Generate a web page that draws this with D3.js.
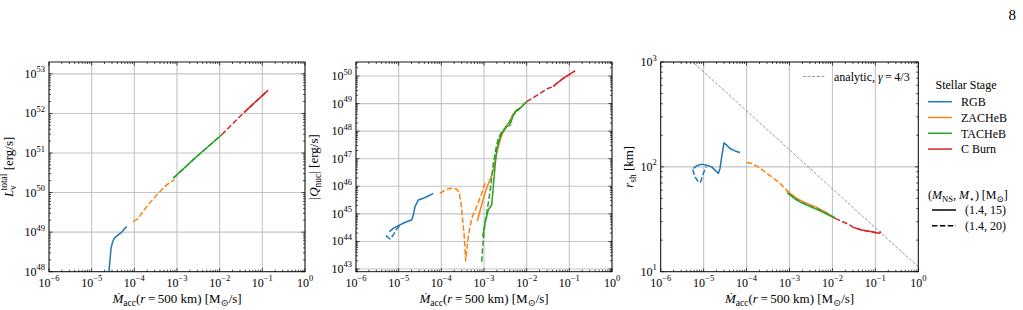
<!DOCTYPE html>
<html><head><meta charset="utf-8">
<script src="https://cdn.jsdelivr.net/npm/d3@7"></script>
<style>
body{margin:0;background:#fff}
svg{display:block}
text{font-family:"Liberation Serif","DejaVu Serif",serif;fill:#000}
</style>
</head><body>
<svg id="c" width="1023" height="310"></svg>
<script>
// ---- DATA: pairs of [log10 Mdot (Msun/s), log10 value] ----
// Panel 1: total neutrino luminosity [erg/s]
const lumRGB15 = [[-4.594,47.95],[-4.594,48.02],[-4.570,48.30],[-4.547,48.59],[-4.517,48.72],[-4.470,48.85],[-4.376,48.93],[-4.296,49.00],[-4.235,49.08],[-4.179,49.14]];
const lumZAC20 = [[-4.024,49.266],[-3.931,49.327],[-3.710,49.646],[-3.476,49.942],[-3.242,50.195],[-3.087,50.304],[-3.06,50.33]];
const lumTAC15 = [[-3.087,50.365],[-2.539,50.911],[-1.953,51.461]];
const lumTAC20 = [[-3.08,50.37],[-2.54,50.905],[-1.96,51.455]];
const lumCB20  = [[-1.953,51.461],[-1.524,51.924],[-1.172,52.281],[-0.868,52.582]];
const lumCB15  = [[-1.43,52.02],[-1.172,52.281],[-0.868,52.582]];

// Panel 2: |Q_nuc| [erg/s]
const qRGB15 = [[-5.220,44.353],[-5.126,44.476],[-5.009,44.571],[-4.891,44.658],[-4.774,44.741],[-4.695,44.777],[-4.657,44.959],[-4.617,45.260],[-4.540,45.503],[-4.423,45.564],[-4.306,45.648],[-4.188,45.746]];
const qRGB20 = [[-5.297,44.208],[-5.203,44.088],[-5.126,44.233],[-5.063,44.415],[-4.969,44.59]];
const qZAC20 = [[-4.031,45.746],[-3.914,45.865],[-3.797,45.927],[-3.640,45.902],[-3.579,45.746],[-3.539,45.383],[-3.500,44.777],[-3.462,44.172],[-3.430,43.30],[-3.368,44.172],[-3.328,44.534],[-3.274,44.897],[-3.171,45.260],[-3.054,45.746],[-2.977,46.108]];
const qZAC15 = [[-3.157,44.741],[-3.094,45.104],[-2.977,45.757],[-2.900,46.083],[-2.843,46.301],[-2.782,46.591],[-2.719,47.073],[-2.665,47.436],[-2.609,47.741],[-2.548,47.980],[-2.468,48.223],[-2.391,48.343],[-2.351,48.524],[-2.274,48.705],[-2.157,48.829],[-2.000,49.068]];
const qTAC20 = [[-3.054,43.265],[-3.031,43.809],[-2.977,44.658],[-2.900,45.383],[-2.843,45.985],[-2.782,46.834],[-2.719,47.378],[-2.665,47.741],[-2.585,47.980],[-2.468,48.170],[-2.313,48.586],[-2.157,48.829],[-2.000,49.068]];
const qTAC15 = [[-3.031,44.172],[-2.977,44.658],[-2.900,45.140],[-2.820,45.321],[-2.782,45.985],[-2.742,46.711],[-2.703,47.316],[-2.642,47.679],[-2.585,47.922],[-2.468,48.161],[-2.391,48.223],[-2.313,48.586],[-2.234,48.766],[-2.157,48.829],[-2.000,49.068]];
const qCB20 = [[-2.000,49.068],[-1.493,49.554],[-1.376,49.612],[-1.313,49.710],[-1.142,49.917],[-0.868,50.182]];
const qCB15 = [[-1.376,49.612],[-1.313,49.710],[-1.142,49.917],[-0.868,50.182]];

// Panel 3: shock radius [km]
const rRGB15 = [[-5.241,1.985],[-5.154,2.011],[-5.045,2.026],[-4.929,2.016],[-4.812,2.000],[-4.735,1.969],[-4.658,1.937],[-4.619,1.985],[-4.579,2.095],[-4.526,2.229],[-4.463,2.207],[-4.386,2.175],[-4.269,2.152],[-4.153,2.137]];
const rRGB20 = [[-5.255,1.975],[-5.201,1.905],[-5.124,1.857],[-5.073,1.852],[-5.008,1.937],[-4.945,2.000]];
const rZAC20 = [[-3.997,2.042],[-3.880,2.032],[-3.727,2.000],[-3.570,1.952],[-3.414,1.905],[-3.261,1.857],[-3.105,1.794],[-2.988,1.747]];
const rZAC15 = [[-3.065,1.771],[-2.832,1.699],[-2.599,1.651],[-2.366,1.613],[-2.133,1.562],[-1.940,1.514]];
const rTAC15 = [[-3.051,1.752],[-2.832,1.683],[-2.599,1.635],[-2.366,1.594],[-2.133,1.550],[-1.940,1.509]];
const rTAC20 = [[-3.02,1.745],[-2.80,1.678],[-2.55,1.630],[-2.30,1.588],[-2.08,1.545],[-1.94,1.512]];
const rCB20 = [[-1.940,1.509],[-1.590,1.445],[-1.514,1.423],[-1.318,1.397],[-1.085,1.381],[-0.915,1.366],[-0.869,1.381]];
const rCB15 = [[-1.514,1.423],[-1.318,1.397],[-1.085,1.381],[-0.915,1.366],[-0.869,1.381]];
const analytic = [[-6,3.278],[0,1.046]];

// Ticks / labels
const xTickExps = [-6,-5,-4,-3,-2,-1,0];
const yTickExps1 = [48,49,50,51,52,53];
const yTickExps2 = [43,44,45,46,47,48,49,50];
const yTickExps3 = [1,2,3];
const stages = ["RGB","ZACHeB","TACHeB","C Burn"];
const models = ["(1.4, 15)","(1.4, 20)"];

// ---- DRAWING ----
const colors = ["#1f77b4","#ff7f0e","#2ca02c","#d62728"];
const DASH = "5.5,2.4";
const svg = d3.select("#c");
const TOP = 62, BOT = 271.7;
const FS = 12, FSS = 8.5, FL = 13, FLS = 9.5;

const panels = [
  {x0:49, x1:305, yDom:[48,53.3], yTicks:yTickExps1, labX:13,
   series:[[lumRGB15,0,false],[lumZAC20,1,true],[lumTAC15,2,false],[lumTAC20,2,true],[lumCB20,3,true],[lumCB15,3,false]], ylab:"L"},
  {x0:356, x1:612, yDom:[42.902,50.508], yTicks:yTickExps2, labX:318,
   series:[[qRGB15,0,false],[qRGB20,0,true],[qZAC20,1,true],[qZAC15,1,false],[qTAC20,2,true],[qTAC15,2,false],[qCB20,3,true],[qCB15,3,false]], ylab:"Q"},
  {x0:660.7, x1:918.3, yDom:[1,3], yTicks:yTickExps3, labX:633,
   series:[[rRGB15,0,false],[rRGB20,0,true],[rZAC20,1,true],[rZAC15,1,false],[rTAC15,2,false],[rTAC20,2,true],[rCB20,3,true],[rCB15,3,false]], ylab:"r"}
];

function supLabel(t, exp){
  t.append("tspan").text("10");
  t.append("tspan").attr("dy",-5.5).attr("font-size",FSS).text(exp<0?"\u2212"+(-exp):String(exp));
}

panels.forEach((p,i)=>{
  const x = d3.scaleLog().domain([1e-6,1]).range([p.x0,p.x1]);
  const y = d3.scaleLog().domain([10**p.yDom[0],10**p.yDom[1]]).range([BOT,TOP]);
  const g = svg.append("g");
  const cid = "clip"+i;
  svg.append("clipPath").attr("id",cid).append("rect")
    .attr("x",p.x0).attr("y",TOP).attr("width",p.x1-p.x0).attr("height",BOT-TOP);

  // grid
  xTickExps.forEach(e=>{
    g.append("line").attr("x1",x(10**e)).attr("x2",x(10**e)).attr("y1",TOP).attr("y2",BOT)
     .attr("stroke","#c4c4c4").attr("stroke-width",1.1);
  });
  p.yTicks.forEach(e=>{
    g.append("line").attr("x1",p.x0).attr("x2",p.x1).attr("y1",y(10**e)).attr("y2",y(10**e))
     .attr("stroke","#c4c4c4").attr("stroke-width",1.1);
  });

  const line = d3.line().x(d=>x(10**d[0])).y(d=>y(10**d[1]));
  const lg = g.append("g").attr("clip-path",`url(#${cid})`);
  if(i===2){
    lg.append("path").attr("d",line(analytic)).attr("fill","none")
      .attr("stroke","#808080").attr("stroke-width",0.8).attr("stroke-dasharray","3,1.6");
  }
  p.series.forEach(([data,ci,dashed])=>{
    lg.append("path").attr("d",line(data)).attr("fill","none")
      .attr("stroke",colors[ci]).attr("stroke-width",1.5)
      .attr("stroke-linejoin","round")
      .attr("stroke-dasharray",dashed?DASH:null);
  });

  // ticks (inward, all sides)
  const tk = g.append("g").attr("stroke","#000").attr("stroke-width",0.7);
  for(let e=-6;e<=0;e++){
    const xv=x(10**e);
    tk.append("line").attr("x1",xv).attr("x2",xv).attr("y1",BOT).attr("y2",BOT-3.5);
    tk.append("line").attr("x1",xv).attr("x2",xv).attr("y1",TOP).attr("y2",TOP+3.5);
    if(e<0) for(let k=2;k<=9;k++){
      const xm=x(k*10**e);
      tk.append("line").attr("x1",xm).attr("x2",xm).attr("y1",BOT).attr("y2",BOT-2);
      tk.append("line").attr("x1",xm).attr("x2",xm).attr("y1",TOP).attr("y2",TOP+2);
    }
  }
  const ylo=Math.floor(p.yDom[0]), yhi=Math.ceil(p.yDom[1]);
  for(let e=ylo;e<=yhi;e++){
    for(let k=1;k<=9;k++){
      const v=Math.log10(k*10**e);
      if(v<p.yDom[0]-1e-9||v>p.yDom[1]+1e-9) continue;
      const yv=y(k*10**e), L=k===1?3.5:2;
      tk.append("line").attr("x1",p.x0).attr("x2",p.x0+L).attr("y1",yv).attr("y2",yv);
      tk.append("line").attr("x1",p.x1).attr("x2",p.x1-L).attr("y1",yv).attr("y2",yv);
    }
  }

  // frame
  g.append("rect").attr("x",p.x0).attr("y",TOP).attr("width",p.x1-p.x0).attr("height",BOT-TOP)
   .attr("fill","none").attr("stroke","#000").attr("stroke-width",0.9);

  // tick labels
  xTickExps.forEach(e=>{
    const t=g.append("text").attr("x",x(10**e)).attr("y",286.5).attr("text-anchor","middle").attr("font-size",FS);
    supLabel(t,e);
  });
  p.yTicks.forEach(e=>{
    const t=g.append("text").attr("x",p.x0-4).attr("y",y(10**e)+4).attr("text-anchor","end").attr("font-size",FS);
    supLabel(t,e);
  });

  // x label
  const xl=g.append("text").attr("x",(p.x0+p.x1)/2).attr("y",302.5).attr("text-anchor","middle").attr("font-size",FL);
  xl.append("tspan").attr("font-style","italic").text("\u1E40");
  xl.append("tspan").attr("font-size",FLS).attr("dy",3).text("acc");
  xl.append("tspan").attr("dy",-3).text("(");
  xl.append("tspan").attr("font-style","italic").text("r");
  xl.append("tspan").text("\u2009=\u2009500 km) [M");
  xl.append("tspan").attr("font-size",FLS).attr("dy",3).text("\u2299");
  xl.append("tspan").attr("dy",-3).text("/s]");

  // y label
  const yl=g.append("text").attr("transform",`translate(${p.labX},${(TOP+BOT)/2}) rotate(-90)`)
    .attr("text-anchor","middle").attr("font-size",FL);
  if(p.ylab==="L"){
    yl.append("tspan").attr("font-style","italic").text("L");
    yl.append("tspan").attr("font-size",FLS).attr("dy",3).text("\u03BD");
    yl.append("tspan").attr("font-size",FLS).attr("dx",-5).attr("dy",-9.5).text("total");
    yl.append("tspan").attr("dy",6.5).text(" [erg/s]");
  } else if(p.ylab==="Q"){
    yl.append("tspan").text("|");
    yl.append("tspan").attr("font-style","italic").text("Q");
    yl.append("tspan").attr("font-size",FLS).attr("dy",3).text("nuc");
    yl.append("tspan").attr("dy",-3).text("| [erg/s]");
  } else {
    yl.append("tspan").attr("font-style","italic").text("r");
    yl.append("tspan").attr("font-size",FLS).attr("dy",3).text("sh");
    yl.append("tspan").attr("dy",-3).text(" [km]");
  }

  if(i===2){
    g.append("line").attr("x1",803).attr("x2",825).attr("y1",76.5).attr("y2",76.5)
      .attr("stroke","#808080").attr("stroke-width",0.8).attr("stroke-dasharray","3,1.6");
    const at=g.append("text").attr("x",834).attr("y",80.5).attr("font-size",12);
    at.append("tspan").text("analytic, ");
    at.append("tspan").attr("font-style","italic").text("\u03B3");
    at.append("tspan").text("\u2009=\u20094/3");
  }
});

// Right legend
const lgd = svg.append("g");
lgd.append("text").attr("x",966).attr("y",89).attr("text-anchor","middle").attr("font-size",12).text("Stellar Stage");
stages.forEach((s,k)=>{
  const yy=101.7+k*15.8;
  lgd.append("line").attr("x1",928).attr("x2",952).attr("y1",yy).attr("y2",yy).attr("stroke",colors[k]).attr("stroke-width",1.5);
  lgd.append("text").attr("x",961).attr("y",yy+4.2).attr("font-size",12).text(s);
});
const t2=lgd.append("text").attr("x",928).attr("y",199).attr("font-size",12);
t2.append("tspan").text("(");
t2.append("tspan").attr("font-style","italic").text("M");
t2.append("tspan").attr("font-size",8.5).attr("dy",2.5).text("NS");
t2.append("tspan").attr("dy",-2.5).text(", ");
t2.append("tspan").attr("font-style","italic").text("M");
t2.append("tspan").attr("font-size",8.5).attr("dy",2.5).text("\u22C6");
t2.append("tspan").attr("dy",-2.5).text(") [M");
t2.append("tspan").attr("font-size",8.5).attr("dy",2.5).text("\u2299");
t2.append("tspan").attr("dy",-2.5).text("]");
models.forEach((m,k)=>{
  const yy=210+k*15.7;
  lgd.append("line").attr("x1",932).attr("x2",956).attr("y1",yy).attr("y2",yy).attr("stroke","#000").attr("stroke-width",1.5)
    .attr("stroke-dasharray",k===1?DASH:null);
  lgd.append("text").attr("x",965).attr("y",yy+4.2).attr("font-size",12).text(m);
});

// page number
svg.append("text").attr("x",1016).attr("y",20).attr("text-anchor","end").attr("font-size",15).text("8");
</script>
</body></html>
